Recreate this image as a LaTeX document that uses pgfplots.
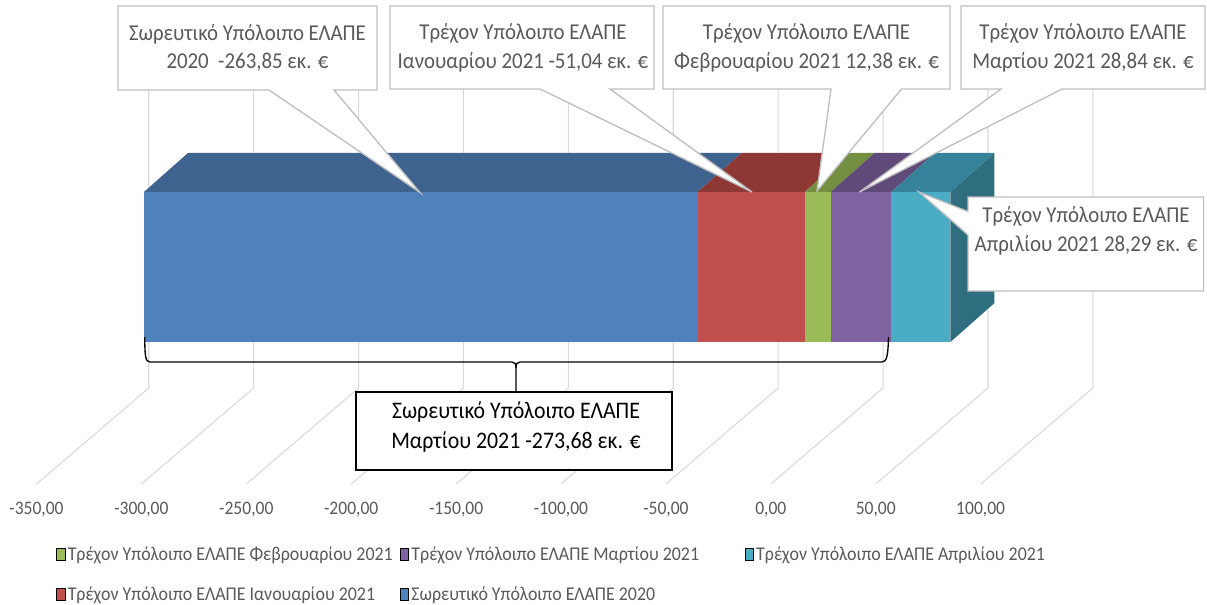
\documentclass[border=0pt]{standalone}
\usepackage{fontspec}
\setmainfont[FakeStretch=0.92]{Carlito}
\usepackage{pgfplots}
\pgfplotsset{compat=1.18}

\definecolor{cblue}{HTML}{4F81BD}
\definecolor{cblueT}{HTML}{3E638F}
\definecolor{cred}{HTML}{C0504D}
\definecolor{credT}{HTML}{8E3836}
\definecolor{cgreen}{HTML}{9BBB59}
\definecolor{cgreenT}{HTML}{748E42}
\definecolor{cpurple}{HTML}{8064A2}
\definecolor{cpurpleT}{HTML}{5F4A7A}
\definecolor{cteal}{HTML}{4BACC6}
\definecolor{ctealT}{HTML}{35839B}
\definecolor{ctealS}{HTML}{2F6E7E}
\definecolor{cgrid}{HTML}{D9D9D9}
\definecolor{ctext}{HTML}{595959}
\definecolor{cbox}{HTML}{BFBFBF}

\pgfplotsset{
  frame/.style={
    at={(0pt,-369pt)}, anchor=south west,
    scale only axis, width=905.25pt, height=369pt,
    xmin=-367.4, xmax=207.9, ymin=112, ymax=604,
    clip=false,
  },
  grid line/.style={cgrid, line width=0.8pt, forget plot},
  face/.style={draw=none, forget plot},
}

\begin{document}
\begin{tikzpicture}
\useasboundingbox (0pt,0pt) rectangle (905.25pt,-453pt);

% wall and floor lines, tick labels, legend, the top and side of the bar
\begin{axis}[
  frame,
  axis y line=none,
  axis x line*=bottom,
  x axis line style={draw=none},
  major tick length=0pt,
  xtick={-350,-300,...,100},
  xticklabel style={font=\fontsize{14.3}{16}\selectfont, text=ctext, yshift=-4pt,
    /pgf/number format/.cd, fixed, fixed zerofill, precision=2, use comma, 1000 sep={}, assume math mode=true},
  legend image code/.code={\fill[#1] (0pt,-4.4pt) rectangle (6.4pt,4.4pt);},
  legend style={
    at={(axis cs:-340.7,60)}, anchor=north west,
    draw=none, fill=none, inner sep=0pt, outer sep=0pt,
    font=\fontsize{14.6}{16}\selectfont,
    text=ctext,
    /tikz/row sep=14pt,
    /tikz/column 2/.style={column sep=3.2pt},
    /tikz/column 4/.style={column sep=32pt},
  },
  legend columns=3,
  legend cell align=left,
]
\addplot[grid line] coordinates {(-350,120) (-296.5,216) (-296.5,540)};
\addplot[grid line] coordinates {(-300,120) (-246.5,216) (-246.5,540)};
\addplot[grid line] coordinates {(-250,120) (-196.5,216) (-196.5,540)};
\addplot[grid line] coordinates {(-200,120) (-146.5,216) (-146.5,540)};
\addplot[grid line] coordinates {(-150,120) (-96.5,216) (-96.5,540)};
\addplot[grid line] coordinates {(-100,120) (-46.5,216) (-46.5,540)};
\addplot[grid line] coordinates {(-50,120) (3.5,216) (3.5,540)};
\addplot[grid line] coordinates {(0,120) (53.5,216) (53.5,540)};
\addplot[grid line] coordinates {(50,120) (103.5,216) (103.5,540)};
\addplot[grid line] coordinates {(100,120) (153.5,216) (153.5,540)};

\addplot[face, fill=cblueT] coordinates {(-298.8,412) (-34.95,412) (-13.95,451) (-277.8,451)} --cycle;
\addplot[face, fill=credT] coordinates {(-34.95,412) (16.09,412) (37.09,451) (-13.95,451)} --cycle;
\addplot[face, fill=cgreenT] coordinates {(16.09,412) (28.47,412) (49.47,451) (37.09,451)} --cycle;
\addplot[face, fill=cpurpleT] coordinates {(28.47,412) (57.31,412) (78.31,451) (49.47,451)} --cycle;
\addplot[face, fill=ctealT] coordinates {(57.31,412) (85.6,412) (106.6,451) (78.31,451)} --cycle;
\addplot[face, fill=ctealS] coordinates {(85.6,412) (85.6,262) (106.6,301) (106.6,451)} --cycle;

\addlegendimage{fill=cgreen}
\addlegendentry{Τρέχον Υπόλοιπο ΕΛΑΠΕ Φεβρουαρίου 2021}
\addlegendimage{fill=cpurple}
\addlegendentry{Τρέχον Υπόλοιπο ΕΛΑΠΕ Μαρτίου 2021}
\addlegendimage{fill=cteal}
\addlegendentry{Τρέχον Υπόλοιπο ΕΛΑΠΕ Απριλίου 2021}
\addlegendimage{fill=cred}
\addlegendentry{Τρέχον Υπόλοιπο ΕΛΑΠΕ Ιανουαρίου 2021}
\addlegendimage{fill=cblue}
\addlegendentry{Σωρευτικό Υπόλοιπο ΕΛΑΠΕ 2020}
\end{axis}

% front of the bar; the first series only moves the stack to where it starts
\begin{axis}[
  frame,
  hide axis,
  xbar stacked,
  stack negative=on previous,
  bar width=112.5pt,
]
\addplot[draw=none, fill=none] coordinates {(-298.8,337)};
\addplot[draw=none, fill=cblue] coordinates {(263.85,337)};
\addplot[draw=none, fill=cred] coordinates {(51.04,337)};
\addplot[draw=none, fill=cgreen] coordinates {(12.38,337)};
\addplot[draw=none, fill=cpurple] coordinates {(28.84,337)};
\addplot[draw=none, fill=cteal] coordinates {(28.29,337)};
\end{axis}

% callouts, in reference pixels
\begin{scope}[x=0.75pt, y=-0.75pt,
  call/.style={draw=cbox, fill=white, line width=1pt, line join=miter},
  lab/.style={align=center, text=ctext, inner sep=0pt, font=\fontsize{17}{21.6}\selectfont}]
\draw[call] (118,6) -- (377,6) -- (377,90) -- (334,90) -- (420,192.5) -- (269,90) -- (118,90) -- cycle;
\node[lab] at (247.5,48) {Σωρευτικό Υπόλοιπο ΕΛΑΠΕ\\2020~ -263,85 εκ. €};
\draw[call] (390,6) -- (654,6) -- (654,89) -- (610,89) -- (752,192) -- (540,89) -- (390,89) -- cycle;
\node[lab] at (523,48) {Τρέχον Υπόλοιπο ΕΛΑΠΕ\\Ιανουαρίου 2021 -51,04 εκ. €};
\draw[call] (663,6) -- (950,6) -- (950,89) -- (901.5,89) -- (817,191) -- (831,89) -- (663,89) -- cycle;
\node[lab] at (806.5,48) {Τρέχον Υπόλοιπο ΕΛΑΠΕ\\Φεβρουαρίου 2021 12,38 εκ. €};
\draw[call] (961,6) -- (1205,6) -- (1205,89) -- (1062,89) -- (859.5,192) -- (1001,89) -- (961,89) -- cycle;
\node[lab] at (1083,48) {Τρέχον Υπόλοιπο ΕΛΑΠΕ\\Μαρτίου 2021 28,84 εκ. €};
\draw[call] (968,197) -- (1203.5,197) -- (1203.5,291) -- (968,291) -- (968,235) -- (919,192) -- (968,211.5) -- cycle;
\node[lab] at (1086,231) {Τρέχον Υπόλοιπο ΕΛΑΠΕ\\Απριλίου 2021 28,29 εκ. €};

\draw[black, line width=1pt]
  (144.7,337) .. controls (145,355) and (145,362) .. (150,362) -- (512,362)
  .. controls (515,362) and (516,364) .. (516,368) -- (516,392);
\draw[black, line width=1pt]
  (516,368) .. controls (516,364) and (517,362) .. (520,362) -- (882,362)
  .. controls (887,362) and (888,355) .. (888.5,337);
\draw[black, fill=white, line width=1pt] (356,392) rectangle (672,470);
\node[lab, text=black, font=\fontsize{17.8}{22.5}\selectfont] at (516,427.5) {Σωρευτικό Υπόλοιπο ΕΛΑΠΕ\\Μαρτίου 2021 -273,68 εκ. €};
\end{scope}
\end{tikzpicture}
\end{document}
